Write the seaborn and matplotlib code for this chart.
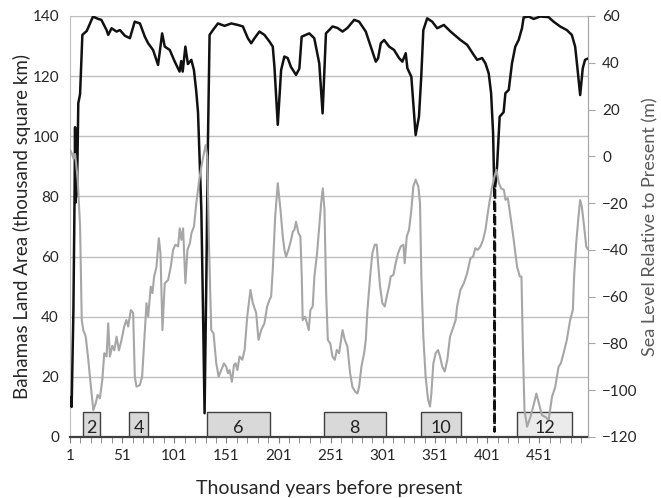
import matplotlib
matplotlib.use("Agg")
import matplotlib.pyplot as plt
import seaborn as sns
import numpy as np

# Land area (thousand km2) vs. thousand years before present
land_age = [1, 2.5, 4.2, 5.2, 5.8, 6.4, 7.0, 7.6, 8.9, 10.6, 12.8, 17, 23, 28, 31, 36, 37.6,
            40.8, 45.6, 48.8, 53.6, 58.4, 63, 68, 72.7, 75.9, 80.6, 85.4, 89.3, 91.8, 96.6,
            101.4, 106, 107.6, 109, 111.6, 114, 117.3, 119.8, 122, 123.7, 125.3, 126.9, 128.5,
            130, 131.7, 133.2, 134.8, 138, 142.8, 149.2, 155.6, 162, 166.7, 171.5, 174.7,
            177.9, 182.6, 187.4, 192.2, 195.4, 197, 200.2, 203.4, 206.5, 209.7, 212.9, 217.7,
            220.9, 223.1, 227.2, 230.4, 235.2, 240, 243.2, 246.4, 249.5, 252.7, 257.5, 262.3,
            267, 273.5, 278.2, 284.6, 289.4, 294.2, 296.4, 299, 302.2, 307, 311.7, 316.5,
            319.7, 322.9, 324.5, 328.3, 330.2, 332.4, 335.6, 337.8, 339.8, 343.5, 348.3,
            353.1, 359.5, 365.9, 372, 375.4, 381.8, 388.2, 391.4, 396.2, 399.4, 402.5, 404.8,
            406.7, 407.8, 408.6, 409.3, 410.5, 413, 416.8, 418.5, 421.7, 424.8, 428, 431.2,
            434.4, 436, 440.8, 445.6, 451.9, 459.9, 464.7, 471, 477.4, 482.2, 485.4, 487.6,
            490.2, 492.7, 494.9, 498]
land_area = [13.3, 10, 42, 76, 103, 78, 102, 80, 111, 114, 133.7, 135, 139.8, 139, 138.7,
             135.3, 133.7, 135.9, 134.8, 135.3, 133.4, 132.6, 138.1, 137.5, 133.1, 130.9,
             128.7, 123.7, 134.2, 129.8, 128.7, 124.8, 121.5, 125, 121.5, 129.8, 124, 125.4,
             122, 115, 108, 92, 75.5, 42, 7.9, 53, 97.7, 133.7, 135.3, 137.5, 136.7, 137.5,
             137, 136.5, 132.6, 130.9, 132.6, 134.8, 133.7, 131.5, 129.8, 123.1, 103.8, 122,
             126.5, 126, 123, 120.4, 122.5, 133.1, 133.7, 134.2, 132.6, 124.2, 107.6, 134.2,
             135.3, 136.5, 136, 134.8, 136, 138.7, 138.1, 134.8, 129.8, 124.8, 125.9, 130.9,
             132, 129.8, 128.7, 126, 124.8, 127.6, 122.6, 119.8, 111, 100.4, 106.5, 119.8,
             135.3, 139.2, 138.1, 135.9, 137, 134.8, 133, 132, 130.4, 127, 125.4, 126, 124.2,
             120.9, 114.3, 101, 83, 83, 85, 90, 106.5, 108, 114.3, 115.4, 124.2, 129.8, 132,
             135.9, 139.5, 139.8, 139, 139.8, 139.6, 138.1, 136.5, 135.3, 133.7, 129.8, 122.6,
             113.7, 122.6, 125.4, 125.9]

# dashed drop near 408 ka
dip_age = [407.8, 408.1, 408.6]
dip_area = [83, 1.8, 83]

# Sea level relative to present (m)
sea_age = [1, 2.6, 4.2, 5.8, 6.8, 8.3, 10.6, 12.2, 13.7, 16, 18.5, 21, 23.3, 25.5, 27.4,
           29.6, 31.9, 33.8, 36, 37.6, 39.2, 41.5, 43.4, 45.6, 47.8, 50.3, 52.9, 55, 56.7,
           59.3, 61.5, 63.1, 64.7, 67.9, 70.1, 72.7, 74.3, 75.9, 78.4, 80, 81.6, 83.9, 86.1,
           87.7, 89.6, 91.8, 95, 97.6, 99.8, 102, 104.6, 106.2, 107.8, 109.4, 111.6, 113.6,
           115.9, 117.4, 119.8, 122.1, 124.6, 126.9, 129.4, 131, 132.6, 134.2, 136.4, 138.6,
           141.2, 143.5, 146, 148.6, 150.8, 152.4, 154, 156.2, 158.2, 159.8, 161.4, 163.6,
           166.1, 168.4, 170.9, 174, 176.3, 179.5, 181.7, 184.3, 187.4, 190, 192.2, 193.8,
           195.4, 197.7, 200.2, 202.8, 205, 206.6, 208.2, 210.4, 213, 214.6, 216.2, 217.7,
           220, 221.9, 223.2, 224.1, 226.4, 228.3, 229.9, 231.5, 233.7, 235.3, 237.9, 240.2,
           241.8, 243.4, 245, 246.6, 248.2, 250.5, 252.7, 254.9, 256.8, 259, 262.3, 264.5,
           267, 269.6, 271.8, 274.4, 276.6, 278.2, 280.4, 283, 284.6, 286.2, 288.8, 290.9,
           293.2, 295.1, 296.4, 298.3, 300.5, 302.8, 304.7, 306.9, 308.5, 311.1, 313.3,
           315.6, 318.1, 320.7, 321.9, 323.9, 326.1, 328.3, 330.2, 332.4, 335, 336.6, 337.9,
           339.8, 342, 344.3, 346.2, 347.5, 349.4, 351.6, 353.9, 355.8, 358, 360.3, 362.8,
           365.4, 367.6, 370.8, 372.2, 375.4, 378.6, 381.8, 385, 387.5, 389.7, 392, 394.5,
           397.1, 399.4, 401.6, 403.6, 405.8, 408, 409.9, 412.2, 414.4, 417, 418.6, 420.8,
           423.4, 426.5, 429.7, 432.3, 433.9, 435.2, 436.8, 439.3, 442.5, 445.6, 448.2,
           451.4, 453.6, 456.8, 460, 463.2, 466.3, 469.5, 471.7, 474.3, 477.4, 480.6, 483.2,
           484.4, 486.4, 488.6, 490.2, 491.8, 494, 496, 498]
sea_level = [2.7, 1.3, -1, 1, -3, -10, -30, -70, -74.3, -77, -87, -98.6, -108.5, -105.7,
             -102, -103.5, -95.6, -84.2, -85.6, -71.4, -85.6, -81, -83, -77.1, -83, -78.6,
             -72.8, -70, -72.8, -65.7, -67, -94.2, -98.5, -97.8, -94.2, -74.3, -62.8, -68.5,
             -55.7, -58.5, -51.4, -47.2, -35, -41.4, -74.3, -54.3, -52.9, -47.2, -40, -37.8,
             -38.5, -30.8, -35.7, -30.8, -54.3, -40, -37.2, -32.9, -30, -20, -11, -4.4, 1.4,
             4.8, 0, -37.2, -74.3, -75.7, -88.5, -94.2, -91.4, -88.5, -90, -92.8, -91.4,
             -96.4, -89.2, -88.5, -91.4, -85.6, -87, -82.8, -68.6, -57.1, -62.8, -67, -78.5,
             -74.3, -71.4, -64.2, -61.4, -60, -48.6, -25.8, -11.5, -22.9, -34.3, -40, -42.9,
             -40, -35.7, -32.2, -31.4, -28, -32.8, -34.3, -51.4, -70, -68.6, -71.4, -74.3,
             -65.7, -64.2, -51.5, -41.4, -28.6, -20, -13.7, -22.9, -58.5, -78.5, -80, -85.7,
             -87, -82.8, -84.2, -74.3, -78.5, -81.4, -92.8, -98.6, -100.6, -101.4, -98.6, -90,
             -84.2, -78.5, -65.7, -51.4, -41.4, -37.8, -37.8, -45.7, -55.7, -62.8, -64.2, -60,
             -55.7, -51.4, -50.7, -45.7, -41.4, -38.6, -37.8, -45.7, -34.3, -31.4, -22.9,
             -12.9, -10, -12.9, -20, -51.4, -77.1, -94.2, -104, -107, -101.4, -88.5, -84.2,
             -82.8, -85.6, -90, -92, -87, -77.1, -74.3, -70, -64.2, -57.1, -54.3, -50, -43.6,
             -42.9, -39.3, -40, -38.6, -35.7, -31.4, -24.3, -18.6, -12.9, -8.7, -5.8, -11.4,
             -13.7, -14.3, -18.6, -17.9, -25.7, -35.8, -47.2, -51.4, -51.4, -80, -108.5,
             -115.6, -111.4, -106.3, -101.4, -107, -110.7, -111.4, -112.7, -102.8, -98.6, -90,
             -88.5, -84.2, -78.5, -70, -65.7, -51.4, -37.2, -25.8, -18.7, -21.5, -30, -38.6,
             -40]

# glacial stages (boxes)
stage_labels = ["2", "4", "6", "8", "10", "12"]
stage_start = [13.7, 57.7, 132.3, 244.1, 337.8, 429.6]
stage_end = [29.7, 75.9, 192.9, 303.8, 376.4, 482.2]

sns.set_style("white")
plt.rcParams["font.family"] = ["Lato", "DejaVu Sans"]

fig, ax = plt.subplots(figsize=(6.61, 4.98), dpi=100)
fig.subplots_adjust(left=0.106, right=0.89, bottom=0.1225, top=0.968)

# boxes
box_colors = ["#d9d9d9"] * 5 + ["#ebebeb"]
widths = [e - s for s, e in zip(stage_start, stage_end)]
ax.bar(stage_start, 8.2, width=widths, align="edge", color=box_colors,
       edgecolor="#404040", linewidth=1.0, zorder=2)

sns.lineplot(x=land_age, y=land_area, ax=ax, color="#111111", linewidth=1.8,
             sort=False, estimator=None, zorder=3)
sns.lineplot(x=dip_age, y=dip_area, ax=ax, color="#111111", linewidth=1.8,
             linestyle="--", gapcolor="white", sort=False, estimator=None, zorder=3)

ax.set_xlim(1, 498)
ax.set_ylim(0, 140)
ax.set_yticks(range(0, 141, 20))
ax.yaxis.grid(True, color="#bfbfbf", linewidth=1.0)
ax.xaxis.grid(False)
ax.set_axisbelow(True)
ax.set_xticks(range(1, 452, 50))
ax.set_xticks(range(1, 495, 10), minor=True)
ax.tick_params(axis="x", which="both", direction="out", length=4, color="#7f7f7f",
               labelsize=11, pad=5, bottom=True)
ax.tick_params(axis="y", length=0, labelsize=11, pad=8)
ax.set_xlabel("Thousand years before present", fontsize=14, labelpad=12)
ax.set_ylabel("Bahamas Land Area (thousand square km)", fontsize=13.5, labelpad=1)
for s in ["left", "top", "right"]:
    ax.spines[s].set_color("#bfbfbf")
ax.spines["bottom"].set_color("#404040")
ax.spines["bottom"].set_linewidth(1.6)

ax2 = ax.twinx()
sns.lineplot(x=sea_age, y=sea_level, ax=ax2, color="#a6a6a6", linewidth=1.5,
             sort=False, estimator=None)
ax2.set_ylim(-120, 60)
ax2.set_yticks(range(-120, 61, 20))
ax2.tick_params(axis="y", direction="out", length=5, color="#a6a6a6", labelsize=11, pad=5)
ax2.set_ylabel("Sea Level Relative to Present (m)", fontsize=13, color="#595959", labelpad=3)
ax2.grid(False)
for s in ax2.spines.values():
    s.set_visible(False)
ax2.spines["right"].set_visible(True)
ax2.spines["right"].set_color("#a6a6a6")

# stage numbers on top
for lab, s0, s1 in zip(stage_labels, stage_start, stage_end):
    ax2.text((s0 + s1) / 2, 0.4, lab, transform=ax.transData, ha="center", va="bottom",
             fontsize=13, color="#222222")

fig.savefig("out.png", dpi=100)
